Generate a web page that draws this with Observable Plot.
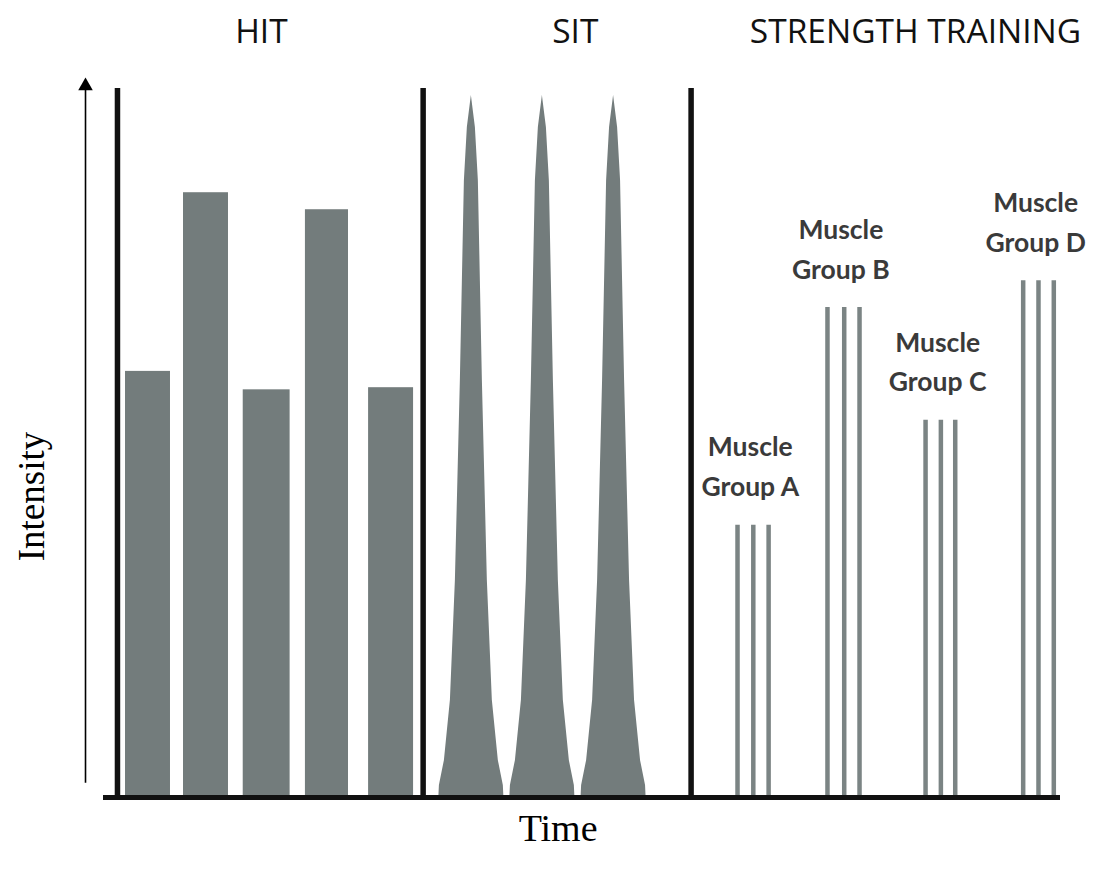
<!DOCTYPE html>
<html><head><meta charset="utf-8">
<script src="https://cdn.jsdelivr.net/npm/d3@7"></script>
<script src="https://cdn.jsdelivr.net/npm/@observablehq/plot@0.6"></script>
<style>body{margin:0;background:#fff}</style>
</head><body><div id="chart"></div>
<script>
// Panels (training types) and their titles
const panelNames = ["HIT", "SIT", "STRENGTH TRAINING"];
const panelTitleTime = [16.5, 49.3, 84.85];
const phaseBoundaries = [1.46, 33.4, 61.4];

// HIT: five work intervals (time start / end, intensity)
const hitStart = [2.3, 8.36, 14.6, 21.1, 27.7];
const hitEnd = [7.0, 13.06, 19.5, 25.6, 32.4];
const hitIntensity = [60.1, 85.3, 57.5, 82.9, 57.8];

// SIT: three sprint spikes; profile (intensity vs half-width in time)
const sitPeakTime = [38.44, 45.86, 53.3];
const sitProfileIntensity = [0, 1.7, 5.2, 13.7, 30.6, 44.7, 58.8, 72.9, 87.0, 94.5, 99.0];
const sitProfileHalfWidth = [3.4, 3.34, 2.82, 2.19, 1.67, 1.41, 1.15, 0.94, 0.73, 0.42, 0.0];

// Strength training: four muscle groups, three sets each
const muscleGroups = ["Muscle\nGroup A", "Muscle\nGroup B", "Muscle\nGroup C", "Muscle\nGroup D"];
const muscleIntensity = [38.4, 69.1, 53.2, 72.9];
const muscleSetTimes = [[66.25, 67.9, 69.5], [75.65, 77.4, 79.0], [85.9, 87.5, 89.0], [96.1, 97.7, 99.3]];

// Tables built from the arrays
const hitBars = hitStart.map((s, i) => ({start: s, end: hitEnd[i], intensity: hitIntensity[i]}));
const sitArea = sitPeakTime.flatMap((p, k) => sitProfileIntensity.map((v, j) => ({
  spike: k, intensity: v, left: p - sitProfileHalfWidth[j], right: p + sitProfileHalfWidth[j]
})));
const strengthSets = muscleSetTimes.flatMap((ts, g) => ts.map(t => ({group: g, time: t, intensity: muscleIntensity[g]})));

const gray = "#737c7c";
const chart = Plot.plot({
  width: 1105,
  height: 873,
  marginLeft: 103,
  marginRight: 45,
  marginTop: 88,
  marginBottom: 76,
  x: {domain: [0, 100], axis: null},
  y: {domain: [0, 100], axis: null},
  style: {background: "#fff"},
  marks: [
    Plot.rectY(hitBars, {x1: "start", x2: "end", y1: 0, y2: "intensity", fill: gray}),
    Plot.areaX(sitArea, {y: "intensity", x1: "left", x2: "right", z: "spike", fill: gray, curve: "linear"}),
    Plot.ruleX(strengthSets, {x: "time", y1: 0, y2: "intensity", stroke: "#7b8484", strokeWidth: 4.5}),
    Plot.ruleX(phaseBoundaries, {y1: 0, y2: 100, stroke: "#111", strokeWidth: 5.5}),
    Plot.ruleY([0], {stroke: "#111", strokeWidth: 5}),
    // Intensity arrow
    Plot.ruleX([-1.88], {y1: 2, y2: 100, stroke: "#000", strokeWidth: 1.6}),
    Plot.dot([0], {x: -1.88, y: 100.35, symbol: "triangle", r: 5.4, fill: "#000", stroke: "none"}),
    // Titles
    Plot.text(panelNames, {x: (d, i) => panelTitleTime[i], y: 108, text: d => d, fontSize: 33.5, fontFamily: "Open Sans", fill: "#111"}),
    Plot.text(muscleGroups, {x: (d, i) => d3.mean(muscleSetTimes[i]) - 0.3, y: (d, i) => muscleIntensity[i], text: d => d,
      dy: -29, lineAnchor: "bottom", lineHeight: 1.5, fontSize: 26.5, fontFamily: "Lato", fontWeight: "bold", fill: "#3a3a3a"}),
    Plot.text(["Intensity"], {x: -7.42, y: 42.45, text: d => d, rotate: -90, fontSize: 37, fontFamily: "Liberation Serif", fill: "#000"}),
    Plot.text(["Time"], {x: 47.5, y: -4.4, text: d => d, fontSize: 38, fontFamily: "Liberation Serif", fill: "#000"})
  ]
});
document.getElementById("chart").append(chart);
</script>
</body></html>
